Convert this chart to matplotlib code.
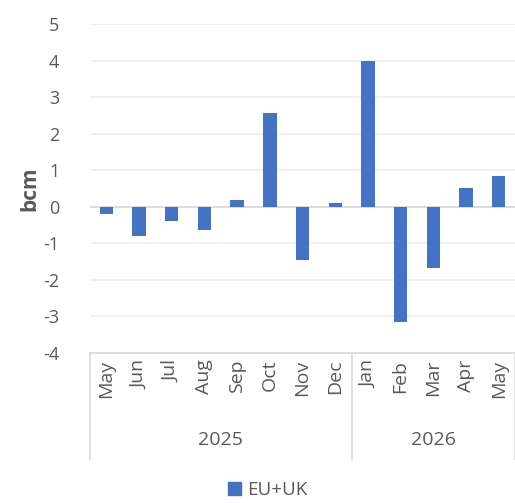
import numpy as np
import matplotlib.pyplot as plt
from matplotlib.patches import Patch

months = ['May', 'Jun', 'Jul', 'Aug', 'Sep', 'Oct', 'Nov', 'Dec',
          'Jan', 'Feb', 'Mar', 'Apr', 'May']
years = ['2025', '2026']
year_counts = [8, 5]
values = [-0.2, -0.8, -0.38, -0.64, 0.18, 2.57, -1.45, 0.11,
          4.01, -3.16, -1.68, 0.53, 0.84]

plt.rcParams['font.family'] = ['Open Sans', 'DejaVu Sans']
plt.rcParams['axes.unicode_minus'] = False
grey_text = '#595959'
blue = '#4472C4'

fig = plt.figure(figsize=(5.15, 5.03), dpi=100)
ax = fig.add_axes([0.1748, 0.2988, 0.8252, 0.6525])

x = np.arange(len(months))
ax.bar(x, values, width=0.41, color=blue, zorder=3)

ax.set_xlim(-0.5, len(months) - 0.5)
ax.set_ylim(-4, 5)
ax.set_yticks(range(-4, 6))
ax.yaxis.grid(True, color='#EDEDED', linewidth=1.2, zorder=0)
ax.axhline(0, color='#D9D9D9', linewidth=1.2, zorder=2)

for s in ['top', 'right', 'left']:
    ax.spines[s].set_visible(False)
ax.spines['bottom'].set_color('#D9D9D9')
ax.spines['bottom'].set_linewidth(1.2)

ax.tick_params(axis='y', length=0, labelsize=13, labelcolor=grey_text, pad=22)
ax.tick_params(axis='x', length=0, labelsize=14, labelcolor=grey_text, pad=5)
ax.set_xticks(x)
ax.set_xticklabels(months, rotation=90, va='top', ha='center')
ax.set_ylabel('bcm', fontsize=15, fontweight='bold', color=grey_text, labelpad=2)

# year grouping below the month labels
trans = ax.get_xaxis_transform()
edges = np.concatenate([[0], np.cumsum(year_counts)]) - 0.5
for e in edges:
    ax.plot([e, e], [0, -0.325], transform=trans, color='#D9D9D9',
            linewidth=1.2, clip_on=False)
for i, yr in enumerate(years):
    mid = (edges[i] + edges[i + 1]) / 2
    ax.text(mid, -0.265, yr, transform=trans, ha='center', va='center',
            fontsize=14, color=grey_text)

fig.legend(handles=[Patch(color=blue, label='EU+UK')], loc='lower center',
           bbox_to_anchor=(0.52, -0.025), frameon=False, fontsize=13.5,
           labelcolor=grey_text, handlelength=0.7, handleheight=0.7,
           handletextpad=0.3)

fig.savefig('out.png', dpi=100)
